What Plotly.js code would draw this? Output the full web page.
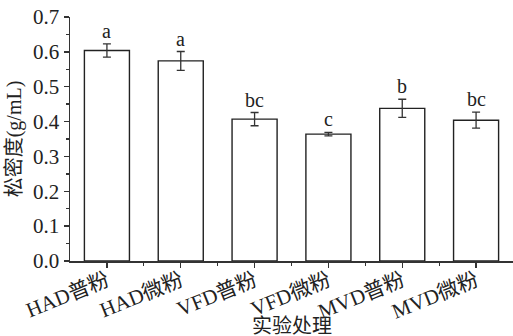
<!DOCTYPE html>
<html>
<head>
<meta charset="utf-8">
<script src="https://cdn.plot.ly/plotly-3.0.1.min.js"></script>
<style>html,body{margin:0;padding:0;background:#fff;}#chart{width:513px;height:336px;}</style>
</head>
<body>
<div id="chart"></div>
<script>
const categories = ["HAD普粉", "HAD微粉", "VFD普粉", "VFD微粉", "MVD普粉", "MVD微粉"];
const values = [0.604, 0.574, 0.407, 0.364, 0.438, 0.404];
const errors = [0.019, 0.027, 0.019, 0.005, 0.026, 0.023];
const letters = ["a", "a", "bc", "c", "b", "bc"];
const yTicks = [0.0, 0.1, 0.2, 0.3, 0.4, 0.5, 0.6, 0.7];

const FONT = "Liberation Serif, Times New Roman, Noto Sans CJK SC, serif";
const xs = categories.map((_, i) => i);

const trace = {
  type: "bar",
  x: xs,
  y: values,
  width: 0.61,
  marker: {color: "#ffffff", line: {color: "#222222", width: 1.4}},
  error_y: {type: "data", array: errors, visible: true, color: "#333333", thickness: 1.3, width: 4}
};

const annotations = letters.map((t, i) => ({
  x: i, y: values[i] + errors[i], xref: "x", yref: "y",
  text: t, showarrow: false, yanchor: "bottom", yshift: 0,
  font: {family: FONT, size: 20, color: "#222"}
}));
annotations.push({
  x: 0.5, y: 0, xref: "paper", yref: "paper",
  text: "实验处理", showarrow: false, yanchor: "middle", yshift: -65,
  font: {family: FONT, size: 20, color: "#222"}
});

const layout = {
  width: 513, height: 336,
  margin: {l: 70, r: 0, t: 17, b: 75},
  paper_bgcolor: "#ffffff", plot_bgcolor: "#ffffff",
  showlegend: false,
  font: {family: FONT, size: 20, color: "#222"},
  xaxis: {
    range: [-0.5, 5.5],
    tickvals: xs, ticktext: categories,
    tickangle: -22,
    ticklabelstandoff: -7,
    ticks: "outside", ticklen: 5, tickwidth: 1.3, tickcolor: "#333",
    minor: {tickvals: [0.5, 1.5, 2.5, 3.5, 4.5], ticks: "outside", ticklen: 3, tickwidth: 1.3, tickcolor: "#333"},
    showline: true, linecolor: "#333", linewidth: 1.5,
    showgrid: false, zeroline: false,
    tickfont: {family: FONT, size: 21, color: "#222"}
  },
  yaxis: {
    range: [0, 0.7],
    tickvals: yTicks, ticktext: yTicks.map(v => v.toFixed(1)),
    ticks: "outside", ticklen: 5, tickwidth: 1.3, tickcolor: "#333",
    minor: {dtick: 0.05, tick0: 0, ticks: "outside", ticklen: 3, tickwidth: 1.3, tickcolor: "#333"},
    showline: true, linecolor: "#333", linewidth: 1.5,
    showgrid: false, zeroline: false,
    tickfont: {family: FONT, size: 21, color: "#222"},
    title: {text: "松密度(g/mL)", font: {family: FONT, size: 20, color: "#222"}, standoff: 6}
  },
  annotations: annotations
};

Plotly.newPlot("chart", [trace], layout, {displayModeBar: false, staticPlot: true});
</script>
</body>
</html>
